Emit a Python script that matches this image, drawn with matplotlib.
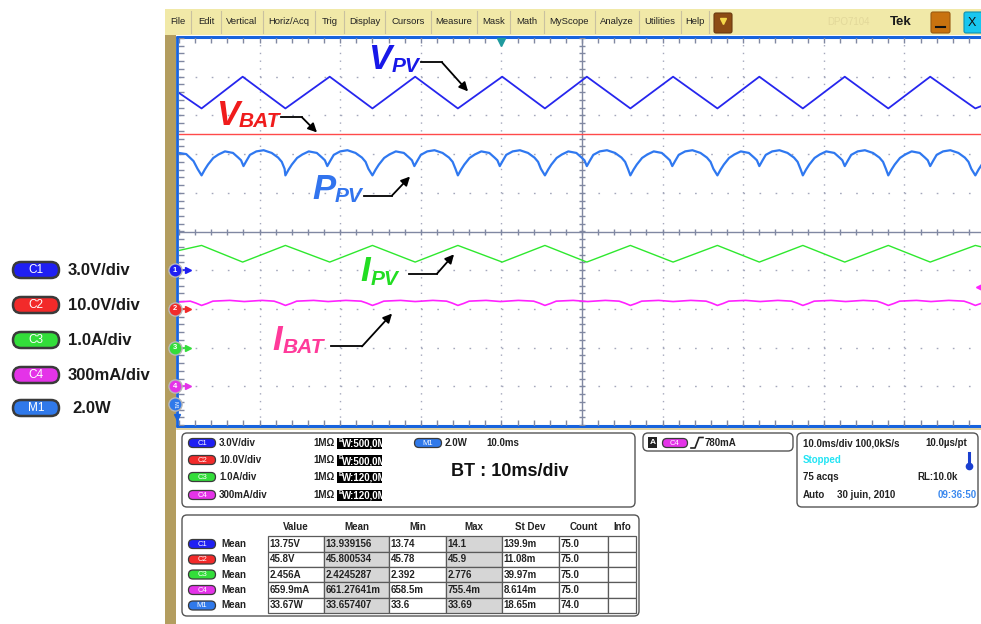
import matplotlib as mpl
mpl.use('Agg')
import matplotlib.pyplot as plt
from matplotlib.patches import Rectangle, FancyBboxPatch
import numpy as np

plt.rcParams['font.family'] = ['Liberation Sans', 'DejaVu Sans']

# waveforms: time in ms (10 ms/div), amplitude in divisions
vpv_t = [0, 2.8, 7.9, 13.2, 18.7, 24.0, 29.3, 34.6, 40.1, 45.4, 50.6,
         56.0, 61.3, 66.8, 72.0, 77.4, 82.6, 88.0, 93.2, 98.8, 100]
vpv_div = [3.58, 3.18, 4.00, 3.18, 4.00, 3.18, 4.00, 3.18, 4.00, 3.18, 4.00,
           3.18, 4.00, 3.18, 4.00, 3.18, 4.00, 3.18, 4.00, 3.18, 3.28]
ipv_div = [-0.49, -0.36, -0.79, -0.36, -0.79, -0.36, -0.79, -0.36, -0.79, -0.36, -0.79,
           -0.36, -0.79, -0.36, -0.79, -0.36, -0.79, -0.36, -0.79, -0.36, -0.42]
vbat_t = [0, 100]
vbat_div = [2.52, 2.52]

# P_PV and I_BAT repeat the same shape around every V_PV minimum
dip_t = [2.8, 13.2, 24.0, 34.6, 45.4, 56.0, 66.8, 77.4, 88.0, 98.8]
ppv_start_t = [0, 0.9, 1.8, 2.3]
ppv_start_div = [2.03, 2.00, 1.82, 1.62]
ppv_shape_dt = [0.0, 0.4, 0.8, 1.45, 2.1, 2.9, 3.9, 4.55, 4.9, 5.2,
                5.55, 6.0, 6.8, 7.7, 8.7, 9.5, 9.95, 10.3]
ppv_shape_div = [1.45, 1.60, 1.73, 1.90, 1.99, 2.07, 2.03, 1.91, 1.84, 1.69,
                 1.82, 1.98, 2.07, 2.10, 2.03, 1.91, 1.80, 1.62]
ibat_start_t = [0]
ibat_start_div = [-1.82]
ibat_shape_dt = [-1.4, -0.7, 0.0, 0.7, 1.4, 3.5, 5.3, 7.5]
ibat_shape_div = [-1.80, -1.85, -1.91, -1.86, -1.80, -1.78, -1.81, -1.78]

# channel setup and measurement table
channels = ['C1', 'C2', 'C3', 'C4', 'M1']
ch_scale = ['3.0V/div', '10.0V/div', '1.0A/div', '300mA/div', '2.0W']
ch_marker_div = [-1.0, -2.0, -3.0, -4.0]
ch_bw = ['500,0M', '500,0M', '120,0M', '120,0M']
meas_value = ['13.75V', '45.8V', '2.456A', '659.9mA', '33.67W']
meas_mean = ['13.939156', '45.800534', '2.4245287', '661.27641m', '33.657407']
meas_min = ['13.74', '45.78', '2.392', '658.5m', '33.6']
meas_max = ['14.1', '45.9', '2.776', '755.4m', '33.69']
meas_std = ['139.9m', '11.08m', '39.97m', '8.614m', '18.65m']
meas_count = ['75.0', '75.0', '75.0', '75.0', '74.0']
menu_items = ['File', 'Edit', 'Vertical', 'Horiz/Acq', 'Trig', 'Display', 'Cursors',
              'Measure', 'Mask', 'Math', 'MyScope', 'Analyze', 'Utilities', 'Help']

ch_color = {'C1': '#1f1ff2', 'C2': '#f22a2a', 'C3': '#33dd3a',
            'C4': '#e433e8', 'M1': '#3079ea'}

W, H = 981, 624
fig = plt.figure(figsize=(9.81, 6.24), dpi=100)
ov = fig.add_axes([0, 0, 1, 1])
ov.set_xlim(0, W)
ov.set_ylim(H, 0)
ov.axis('off')

ax = fig.add_axes([179 / W, 1 - 425 / H, 806 / W, 387 / H])
ax.set_xlim(0, 100)
ax.set_ylim(-5, 5)
ax.patch.set_visible(False)
for s in ax.spines.values():
    s.set_visible(False)
ax.set_xticks([])
ax.set_yticks([])


def pill(x, y, w, h, name, fs, lw=0.9):
    ov.add_patch(FancyBboxPatch((x - w / 2, y - h / 2), w, h,
                                boxstyle='round,pad=0,rounding_size=%g' % (h / 2),
                                fc=ch_color[name], ec='#3a3a3a', lw=lw))
    ov.text(x, y + 0.3, name, color='white', fontsize=fs, ha='center', va='center')


def box(x0, y0, x1, y1):
    ov.add_patch(FancyBboxPatch((x0, y0), x1 - x0, y1 - y0,
                                boxstyle='round,pad=0,rounding_size=5',
                                fc='white', ec='#555555', lw=1.0))


##########  menu bar

ov.add_patch(Rectangle((165, 9), W - 165, 26, fc='#f1e9a8', ec='none'))
menu_seps = [165, 191, 221, 263, 315, 344, 385, 431, 477, 510, 544, 595, 639, 681, 709]
for i, item in enumerate(menu_items):
    ov.text((menu_seps[i] + menu_seps[i + 1]) / 2, 22, item, fontsize=6.8,
            ha='center', va='center', color='#222222')
for xs in menu_seps[1:]:
    ov.plot([xs, xs], [11, 33], color='#c9c1a0', lw=0.8)
ov.add_patch(FancyBboxPatch((714, 13), 18, 20, boxstyle='round,pad=0,rounding_size=2',
                            fc='#8c4c14', ec='#6a3a10', lw=0.8))
ov.plot([723], [21], marker='v', ms=4, color='#f5d84a')
ov.text(848, 22, 'DPO7104', fontsize=7, color='#e2d89a', ha='center', va='center')
ov.text(901, 22, 'Tek', fontsize=9.5, fontweight='bold', ha='center', va='center',
        color='#1a1a1a')
ov.add_patch(FancyBboxPatch((931, 12), 19, 21, boxstyle='round,pad=0,rounding_size=2',
                            fc='#c8720f', ec='#9a5a10', lw=0.8))
ov.plot([936, 945], [27, 27], color='#111111', lw=1.5)
ov.add_patch(FancyBboxPatch((964, 12), 20, 21, boxstyle='round,pad=0,rounding_size=2',
                            fc='#19c6ef', ec='#1090b0', lw=0.8))
ov.text(972, 22.5, 'X', fontsize=9, ha='center', va='center', color='#111111')

##########  screen frame

blue = '#1763dd'
ov.add_patch(Rectangle((165, 35), 11, H - 35, fc='#b39d5f', ec='none'))
ov.plot([176, W], [36.5, 36.5], color=blue, lw=2.2, solid_capstyle='butt')
ov.plot([177, 177], [36, 427], color=blue, lw=2.0, solid_capstyle='butt')
ov.plot([176, W], [426, 426], color=blue, lw=2.2, solid_capstyle='butt')
ov.plot([177, W], [428.8, 428.8], color='#d8c890', lw=1.2)

##########  graticule

gc = '#a4a8bc'
cc = '#8088a2'
for k in range(1, 10):
    if k != 5:
        ax.axvline(k * 10, color=gc, lw=1.0, ls=(0, (1, 4.57)), zorder=1)
for k in range(-4, 5):
    if k != 0:
        ax.axhline(k, color=gc, lw=1.0, ls=(0, (1.2, 10.4)), zorder=1)
ax.axvline(50, color=cc, lw=1.0, zorder=1)
ax.axhline(0, color=cc, lw=1.0, zorder=1)
minor_x = np.arange(0, 100.1, 2)
minor_y = np.arange(-5, 5.01, 0.2)
ax.plot(minor_x, np.zeros_like(minor_x), ls='none', marker='|', ms=5, mew=1, color=cc, zorder=1)
ax.plot(np.full_like(minor_y, 50), minor_y, ls='none', marker='_', ms=5, mew=1, color=cc, zorder=1)
ax.plot(minor_x, np.full_like(minor_x, 5), ls='none', marker='|', ms=7, mew=1, color=cc, zorder=1)
ax.plot(minor_x, np.full_like(minor_x, -5), ls='none', marker='|', ms=7, mew=1, color=cc, zorder=1)
ax.plot(np.zeros_like(minor_y), minor_y, ls='none', marker='_', ms=7, mew=1, color=cc, zorder=1)

##########  traces

ppv_t = ppv_start_t + [d + dt for d in dip_t for dt in ppv_shape_dt]
ppv_div = ppv_start_div + [v for d in dip_t for v in ppv_shape_div]
ibat_t = ibat_start_t + [d + dt for d in dip_t for dt in ibat_shape_dt]
ibat_div = ibat_start_div + [v for d in dip_t for v in ibat_shape_div]

ax.plot(vpv_t, vpv_div, color='#2626ee', lw=1.3, zorder=3)
ax.plot(vbat_t, vbat_div, color='#ff4a4a', lw=1.0, zorder=3)
ax.plot(ppv_t, ppv_div, color='#2f78f0', lw=1.6, zorder=3)
ax.plot(vpv_t, ipv_div, color='#2ee82e', lw=1.0, zorder=3)
ax.plot(ibat_t, ibat_div, color='#ff22ff', lw=1.2, zorder=3)

# channel ground markers on the left edge, trigger markers
yt = ax.get_yaxis_transform()
for i, name in enumerate(channels[:4]):
    off = ch_marker_div[i]
    c = ch_color[name]
    ax.plot([0.0, 0.009], [off, off], color=c, lw=1.2, transform=yt, clip_on=False, zorder=6)
    ax.plot([0.0116], [off], marker='>', ms=4.5, color=c, transform=yt, clip_on=False, zorder=6)
    ax.plot([-0.0055], [off], marker='o', ms=9.5, color=c, mec='#b8b8b8', mew=1,
            transform=yt, clip_on=False, zorder=7)
    ax.text(-0.0055, off, str(i + 1), color='white', fontsize=5.5, fontweight='bold',
            ha='center', va='center', transform=yt, zorder=8)
ax.plot([-0.0055], [-4.47], marker='o', ms=9.5, color=ch_color['M1'], mec='#b8b8b8', mew=1,
        transform=yt, clip_on=False, zorder=7)
ax.text(-0.0055, -4.47, 'M1', color='white', fontsize=4, rotation=-90,
        ha='center', va='center', transform=yt, zorder=8)
ax.plot([-0.002], [-4.8], marker='v', ms=4, color=blue, transform=yt, clip_on=False, zorder=7)
ax.plot([40], [4.9], marker='v', ms=6, color='#1f9a9e', clip_on=False, zorder=6)
ax.plot([99.3], [-1.43], marker='<', ms=5, color='#ff22ff', clip_on=False, zorder=6)
ax.plot([99.3, 100.5], [-1.43, -1.43], color='#ff22ff', lw=1.2, clip_on=False, zorder=6)

##########  trace labels

trace_labels = [
    ('V', 'PV', '#1818e8', (23.5, 4.21), (26.4, 4.11), [(30.0, 4.37), (32.63, 4.37), (35.86, 3.62)]),
    ('V', 'BAT', '#f01c1c', (4.6, 2.76), (7.4, 2.71), [(12.6, 2.95), (15.26, 2.95), (17.12, 2.56)]),
    ('P', 'PV', '#3274ee', (16.5, 0.83), (19.3, 0.75), [(23.0, 0.93), (26.43, 0.93), (28.66, 1.42)]),
    ('I', 'PV', '#22dd22', (22.46, -1.29), (23.8, -1.37), [(28.5, -1.09), (32.01, -1.09), (34.12, -0.59)]),
    ('I', 'BAT', '#ff3a9a', (11.54, -3.05), (12.9, -3.13), [(18.9, -2.97), (22.70, -2.97), (26.43, -2.12)]),
]
for main, sub, c, p_main, p_sub, path in trace_labels:
    ax.text(p_main[0], p_main[1], main, color=c, fontsize=25, fontweight='bold',
            fontstyle='italic', ha='left', va='baseline', zorder=5)
    ax.text(p_sub[0], p_sub[1], sub, color=c, fontsize=15, fontweight='bold',
            fontstyle='italic', ha='left', va='baseline', zorder=5)
    ax.plot([path[0][0], path[1][0]], [path[0][1], path[1][1]], color='k', lw=1.3, zorder=5)
    ax.annotate('', xy=path[2], xytext=path[1],
                arrowprops=dict(arrowstyle='-|>', color='k', lw=1.3, mutation_scale=13,
                                shrinkA=0, shrinkB=0), zorder=5)

##########  side legend

leg_y = [270, 305, 340, 375, 408]
for name, lab, yy in zip(channels, ch_scale, leg_y):
    pill(36, yy, 46, 16, name, 8.5, lw=1.8)
    ov.text(72 if name == 'M1' else 68, yy + 0.5, lab, fontsize=12, fontweight='bold',
            va='center', color='#1a1a1a')

##########  channel panel

box(182, 433, 635, 507)
row_y = [443, 460, 477, 495]
for i in range(4):
    yy = row_y[i]
    pill(202, yy, 27, 9, channels[i], 5.5)
    ov.text(219, yy, ch_scale[i], fontsize=7, fontweight='bold', va='center', color='#222222')
    ov.text(313, yy, '1M\u03a9', fontsize=7, fontweight='bold', va='center', color='#222222')
    r = Rectangle((337, yy - 5.5), 45, 11, fc='black', ec='none')
    ov.add_patch(r)
    ov.text(338.5, yy - 2.5, 'B', fontsize=4.5, fontweight='bold', va='center', color='white')
    t = ov.text(342, yy + 1, 'W:' + ch_bw[i], fontsize=7, fontweight='bold', va='center',
                color='white')
    t.set_clip_path(r)
pill(428, 443, 27, 9, 'M1', 5.5)
ov.text(445, 443, '2.0W', fontsize=7, fontweight='bold', va='center', color='#222222')
ov.text(486, 443, '10.0ms', fontsize=7, fontweight='bold', va='center', color='#222222')
ov.text(510, 471, 'BT : 10ms/div', fontsize=13, fontweight='bold', ha='center',
        va='center', color='#111111')

##########  trigger panel

box(643, 433, 793, 451)
ov.add_patch(Rectangle((648, 437), 9, 11, fc='#222222', ec='none'))
ov.text(652.5, 442.5, 'A', fontsize=6, fontweight='bold', ha='center', va='center', color='white')
pill(675, 443, 25, 9, 'C4', 5.5)
ov.plot([691, 695, 699, 703], [448, 448, 437.5, 437.5], color='#222222', lw=1.2)
ov.text(705, 443, '780mA', fontsize=7, fontweight='bold', va='center', color='#222222')

##########  acquisition panel

box(797, 433, 978, 507)
ov.text(803, 443, '10.0ms/div 100,0kS/s', fontsize=7, fontweight='bold', va='center', color='#222222')
ov.text(925, 443, '10.0\u00b5s/pt', fontsize=7, fontweight='bold', va='center', color='#222222')
ov.text(803, 460, 'Stopped', fontsize=7, fontweight='bold', va='center', color='#22e4f4')
ov.plot([969, 969], [453, 463], color='#1a3fd0', lw=2.2)
ov.plot([969], [465.5], marker='o', ms=4.5, color='#1a3fd0')
ov.text(803, 477, '75 acqs', fontsize=7, fontweight='bold', va='center', color='#222222')
ov.text(917, 477, 'RL:10.0k', fontsize=7, fontweight='bold', va='center', color='#222222')
ov.text(803, 495, 'Auto', fontsize=7, fontweight='bold', va='center', color='#222222')
ov.text(837, 495, '30 juin, 2010', fontsize=7, fontweight='bold', va='center', color='#222222')
ov.text(938, 495, '09:36:50', fontsize=7, fontweight='bold', va='center', color='#3a88ee')

##########  measurement table

box(182, 515, 639, 616)
col_edges = [268, 324, 389, 446, 502, 559, 608, 636]
row_edges = [536, 552, 567, 582, 598, 613]
headers = ['Value', 'Mean', 'Min', 'Max', 'St Dev', 'Count', 'Info']
shaded = [False, True, False, True, False, False, False]
columns = [meas_value, meas_mean, meas_min, meas_max, meas_std, meas_count, [''] * 5]
for c in range(7):
    ov.text((col_edges[c] + col_edges[c + 1]) / 2, 527, headers[c],
            fontsize=7, fontweight='bold', ha='center', va='center', color='#222222')
for r in range(5):
    yc = (row_edges[r] + row_edges[r + 1]) / 2
    pill(202, yc, 27, 9, channels[r], 5.5)
    ov.text(221, yc, 'Mean', fontsize=7, fontweight='bold', va='center', color='#222222')
    for c in range(7):
        ov.add_patch(Rectangle((col_edges[c], row_edges[r]), col_edges[c + 1] - col_edges[c],
                               row_edges[r + 1] - row_edges[r],
                               fc='#d6d6d6' if shaded[c] else 'white', ec='#5a5a5a', lw=0.9))
        ov.text(col_edges[c] + 1.5, yc, columns[c][r], fontsize=7, fontweight='bold',
                va='center', color='#222222')

fig.savefig('out.png', dpi=100)
